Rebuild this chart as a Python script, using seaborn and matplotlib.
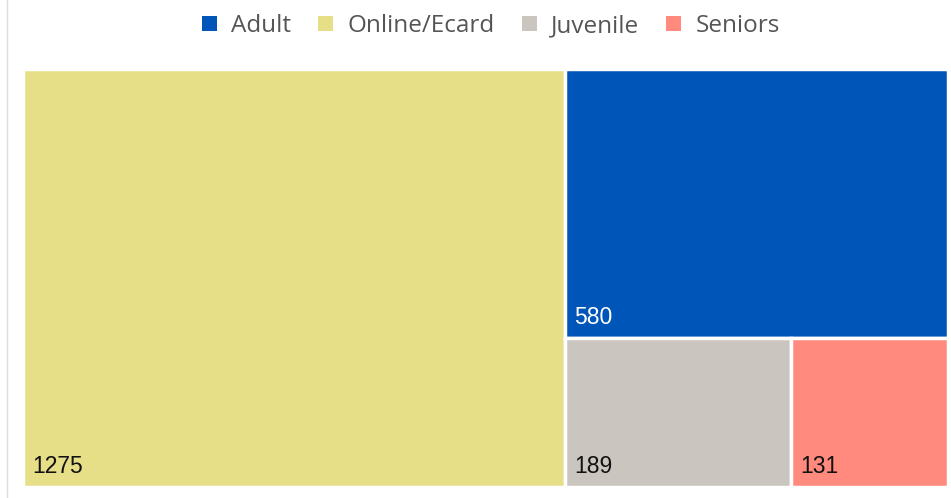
import matplotlib
matplotlib.use("Agg")
import matplotlib.pyplot as plt
from matplotlib.patches import Rectangle, Patch
from matplotlib.lines import Line2D
import seaborn as sns

categories = ["Online/Ecard", "Adult", "Juvenile", "Seniors"]
values = [1275, 580, 189, 131]
colors = ["#E6DF88", "#0055B8", "#CBC5BF", "#FF8A7D"]
label_colors = ["#111111", "#FFFFFF", "#111111", "#111111"]
legend_order = ["Adult", "Online/Ecard", "Juvenile", "Seniors"]

sns.set_theme(style="white")
plt.rcParams["font.family"] = ["Liberation Sans", "DejaVu Sans"]

W, H = 925.0, 418.0
total = sum(values)

# layout: first item as left column, rest stacked on right; last two side by side
rects = []
w0 = W * values[0] / total
rects.append((0, 0, w0, H))
rest = total - values[0]
rw = W - w0
h1 = H * values[1] / rest
rects.append((w0, H - h1, rw, h1))
rest2 = rest - values[1]
bh = H - h1
wj = rw * values[2] / rest2
rects.append((w0, 0, wj, bh))
rects.append((w0 + wj, 0, rw - wj, bh))

fig = plt.figure(figsize=(9.51, 4.98), dpi=100)
ax = fig.add_axes([23 / 951, 11 / 498, 925 / 951, 418 / 498])
ax.set_xlim(0, W)
ax.set_ylim(0, H)
ax.axis("off")

for (x, y, w, h), c, v, lc in zip(rects, colors, values, label_colors):
    ax.add_patch(Rectangle((x, y), w, h, facecolor=c, edgecolor="white", linewidth=2.5))
    ax.text(x + 9, y + 9, str(v), color=lc, fontsize=16.5, ha="left", va="bottom")

cmap = dict(zip(categories, colors))
handles = [Patch(facecolor=cmap[n], edgecolor="none") for n in legend_order]
fig.legend(handles, legend_order, loc="center", bbox_to_anchor=(491 / 951, 1 - 26 / 498),
           ncol=4, frameon=False, handlelength=0.62, handleheight=0.62,
           handletextpad=0.6, columnspacing=1.1, labelcolor="#555555",
           prop={"family": ["Open Sans", "DejaVu Sans"], "size": 17.5})

fig.add_artist(Line2D([7 / 951, 7 / 951], [0, 1], color="#DDDDDD", linewidth=1))

fig.savefig("out.png", dpi=100, facecolor="white")
